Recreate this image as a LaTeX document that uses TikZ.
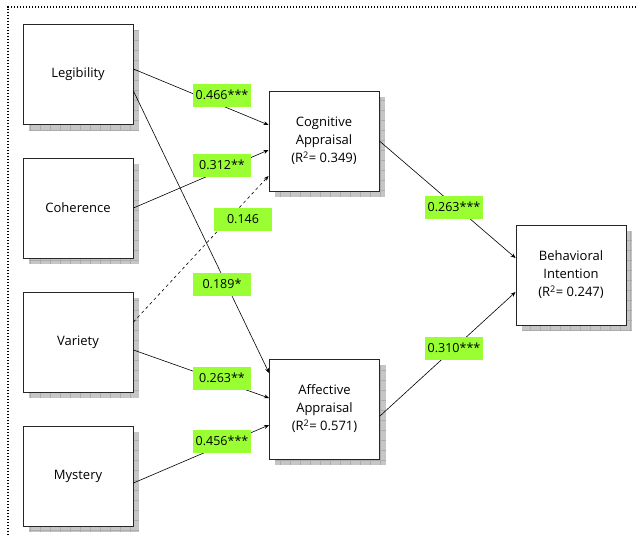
\documentclass[tikz,border=0pt]{standalone}
\usepackage{fontspec}
\setmainfont{Open Sans}
\usetikzlibrary{arrows.meta,backgrounds}
\definecolor{lbl}{RGB}{153,255,51}
\tikzset{
  box/.style={draw=black!85, line width=0.9pt, fill=white, minimum width=110pt, minimum height=100pt, inner sep=0pt, align=center, font=\fontsize{13}{18}\selectfont},
  lab/.style={fill=lbl, minimum width=58pt, minimum height=23pt, inner sep=0pt, font=\fontsize{12.5}{14}\selectfont},
  conn/.style={line width=0.6pt, -{Stealth[length=5pt,width=4pt]}},
}
\newcommand{\shadowof}[1]{%
  \begin{scope}
    \clip ([shift={(6pt,-6pt)}]#1.south west) rectangle ([shift={(6pt,-6pt)}]#1.north east);
    \fill[gray!45] ([shift={(6pt,-6pt)}]#1.south west) rectangle ([shift={(6pt,-6pt)}]#1.north east);
    \draw[gray!65, line width=0.6pt, step=10pt] ([shift={(6pt,-6pt)}]#1.south west) grid ([shift={(6pt,-6pt)}]#1.north east);
  \end{scope}}
\begin{document}
\begin{tikzpicture}[x=1pt,y=-1pt]
\useasboundingbox (0,0) rectangle (636,535);
\draw[line width=1.3pt, dash pattern=on 1.4pt off 1.6pt] (636,7) -- (8,7) -- (8,535);

\node[box] (leg) at (78,74) {Legibility};
\node[box] (coh) at (78,208) {Coherence};
\node[box] (var) at (78,342) {Variety};
\node[box] (mys) at (78,476) {Mystery};
\node[box] (cog) at (324,141) {Cognitive\\Appraisal\\(R\textsuperscript{2}= 0.349)};
\node[box] (aff) at (324.5,409) {Affective\\Appraisal\\(R\textsuperscript{2}= 0.571)};
\node[box] (beh) at (571,275) {Behavioral\\Intention\\(R\textsuperscript{2}= 0.247)};

\begin{scope}[on background layer]
  \shadowof{leg}\shadowof{coh}\shadowof{var}\shadowof{mys}
  \shadowof{cog}\shadowof{aff}\shadowof{beh}
\end{scope}

\draw[conn] ([yshift=5pt]leg.east) -- ([yshift=16pt]cog.west);
\draw[conn] ([yshift=-17pt]leg.east) -- ([yshift=36pt]aff.west);
\draw[conn] (coh.east) -- ([yshift=-9pt]cog.west);
\draw[conn, dashed] ([yshift=20pt]var.east) -- ([yshift=-35pt]cog.west);
\draw[conn] ([yshift=-8pt]var.east) -- ([yshift=11pt]aff.west);
\draw[conn] ([yshift=-7pt]mys.east) -- ([yshift=-16pt]aff.west);
\draw[conn] (cog.east) -- ([yshift=17pt]beh.west);
\draw[conn] ([yshift=-7pt]aff.east) -- ([yshift=-17pt]beh.west);

\node[lab] (l1) at (222,95) {0.466***};
\node[lab] (l2) at (222,165) {0.312**};
\node[lab] (l3) at (243,219) {0.146};
\node[lab] (l4) at (222,284) {0.189*};
\node[lab] (l5) at (222,378) {0.263**};
\node[lab] (l6) at (222,441) {0.456***};
\node[lab] (l7) at (454,207) {0.263***};
\node[lab] (l8) at (454,348) {0.310***};
\end{tikzpicture}
\end{document}
